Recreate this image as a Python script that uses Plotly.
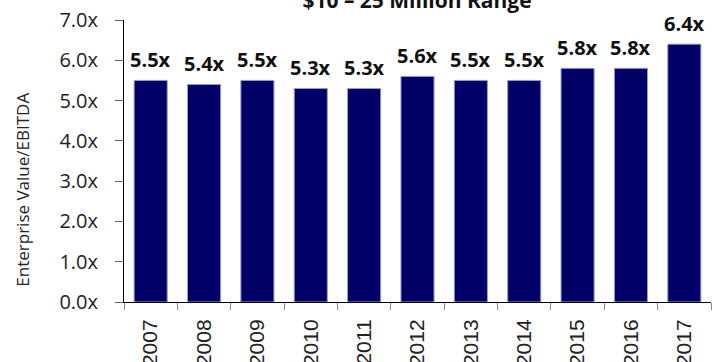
import plotly.graph_objects as go

years = ["2007", "2008", "2009", "2010", "2011", "2012", "2013", "2014", "2015", "2016", "2017"]
multiples = [5.5, 5.4, 5.5, 5.3, 5.3, 5.6, 5.5, 5.5, 5.8, 5.8, 6.4]
labels = [f"{v:.1f}x" for v in multiples]
y_ticks = [0, 1, 2, 3, 4, 5, 6, 7]
y_tick_text = [f"{v:.1f}x" for v in y_ticks]

fig = go.Figure()
fig.add_trace(go.Bar(
    x=years, y=multiples,
    marker=dict(color="#000066", line=dict(color="#9a9acc", width=1)),
    width=0.62,
    hoverinfo="skip",
))

for i, (v, t) in enumerate(zip(multiples, labels)):
    fig.add_annotation(x=i, y=v, text=f"<b>{t}</b>", showarrow=False,
                       yanchor="bottom", yshift=5,
                       font=dict(family="Open Sans", size=20, color="#111111"))

fig.add_annotation(xref="paper", yref="paper", x=-0.173, y=0.40,
                   text="Enterprise Value/EBITDA", textangle=-90, showarrow=False,
                   xanchor="center", yanchor="middle",
                   font=dict(family="Open Sans", size=17, color="#222222"))

fig.update_layout(
    width=719, height=362,
    margin=dict(l=124, r=8, t=20, b=60),
    plot_bgcolor="white", paper_bgcolor="white",
    showlegend=False,
    title=dict(text="<b>$10 – 25 Million Range</b>", x=0.58, xanchor="center",
               y=0.978, yref="container", yanchor="bottom",
               font=dict(family="Open Sans", size=21, color="#111111")),
    xaxis=dict(
        type="category", tickson="boundaries", ticks="outside", ticklen=7,
        tickcolor="#888888", tickwidth=1,
        showline=True, linecolor="black", linewidth=1,
        tickangle=-90, tickfont=dict(family="Liberation Sans", size=21, color="#222222"),
        ticklabelstandoff=8, automargin=False,
        range=[-0.5, 10.5],
    ),
    yaxis=dict(
        range=[0, 7], tickvals=y_ticks, ticktext=y_tick_text,
        ticks="outside", ticklen=8, tickcolor="#666666",
        showline=True, linecolor="black", linewidth=1,
        showgrid=False, zeroline=False,
        ticklabelstandoff=13, automargin=False,
        tickfont=dict(family="Open Sans", size=20, color="#222222"),
    ),
)

fig.write_html("out.html")
